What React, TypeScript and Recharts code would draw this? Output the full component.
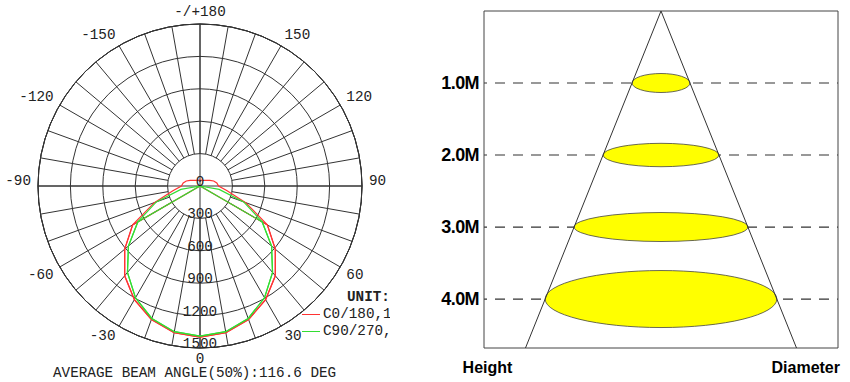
import {
  RadarChart,
  Radar,
  PolarGrid,
  PolarAngleAxis,
  PolarRadiusAxis,
  Legend,
  ScatterChart,
  Scatter,
  XAxis,
  YAxis,
  ReferenceArea,
} from 'recharts'

// gamma angles, 0 = straight down, 90 = right, 180 = up, 270 = -90
const gammaAngles = [
  0, 10, 20, 30, 40, 50, 60, 70, 80, 90, 100, 110, 120, 130, 140, 150, 160, 170,
  180, 190, 200, 210, 220, 230, 240, 250, 260, 270, 280, 290, 300, 310, 320, 330, 340, 350,
]

// candela, C0/180 plane
const c0Curve = [
  1400, 1380, 1315, 1215, 1085, 910, 720, 450, 255, 172, 158, 135, 105, 82, 68, 60, 56, 55,
  55, 55, 56, 60, 68, 82, 105, 135, 158, 172, 255, 450, 720, 910, 1085, 1215, 1315, 1380,
]
const c0Edge = [
  1400, 1380, 1315, 1215, 1085, 910, 720, 0, 0, 0, 0, 0, 0, 0, 0, 0, 0, 0,
  0, 0, 0, 0, 0, 0, 0, 0, 0, 0, 0, 0, 720, 910, 1085, 1215, 1315, 1380,
]

// candela, C90/270 plane
const c90Curve = [
  1390, 1370, 1305, 1195, 1045, 865, 665, 430, 180, 0, 0, 0, 0, 0, 0, 0, 0, 0,
  0, 0, 0, 0, 0, 0, 0, 0, 0, 0, 180, 430, 665, 865, 1045, 1195, 1305, 1370,
]
const c90Edge = [
  1390, 1370, 1305, 1195, 1045, 865, 665, 0, 0, 0, 0, 0, 0, 0, 0, 0, 0, 0,
  0, 0, 0, 0, 0, 0, 0, 0, 0, 0, 0, 0, 665, 865, 1045, 1195, 1305, 1370,
]

const intensityDomain = [0, 1500]

// beam spread diagram (metres)
const mountHeights = [1, 2, 3, 4]
const spotDiameters = [3.24, 6.48, 9.72, 12.96]
const coneX = [-7.58, 0, 7.58]
const coneY = [4.68, 0, 4.68]

const MONO = '"Liberation Mono", "Courier New", monospace'
const SANS = '"Liberation Sans", Arial, sans-serif'
const CX = 200
const CY = 186
const OUTER_R = 162
const INNER_R = 32.4
const RED = '#ff3333'
const GREEN = '#33dd33'
const GRID = '#333'
const SPOT_RY = [9.5, 11.7, 14.5, 28.5]
const X_MAX = 9.9
const Y_MAX = 4.68

const polarData = gammaAngles.map((angle, i) => ({
  angle,
  c0: c0Curve[i],
  c0Edge: c0Edge[i],
  c90: c90Curve[i],
  c90Edge: c90Edge[i],
}))

const coneData = coneX.map((x, i) => ({ x, y: coneY[i] }))

const legendColors: Record<string, string> = {
  'C0/180,1400cd': RED,
  'C90/270,1390cd': GREEN,
}

function AngleTick(props: any) {
  const { x, y, textAnchor, payload } = props
  const a = Number(payload.value)
  if (a % 30 !== 0) return <g />
  const label = a === 180 ? '-/+180' : a > 180 ? String(a - 360) : String(a)
  return (
    <text
      x={x}
      y={y + (y < CY + 1 ? -5 : 4)}
      textAnchor={textAnchor}
      dominantBaseline="central"
      fontFamily={MONO}
      fontSize={14.3}
      fill="#222"
    >
      {label}
    </text>
  )
}

function RadiusTick(props: any) {
  const { x, y, payload } = props
  return (
    <text x={x} y={y} textAnchor="middle" fontFamily={MONO} fontSize={14.3} fill="#222">
      {payload.value}
    </text>
  )
}

function renderLegend(props: any) {
  const { payload = [] } = props
  const items = payload.filter((entry: any) => legendColors[entry.value])
  return (
    <div style={{ fontFamily: MONO, fontSize: 14.3, lineHeight: '17px', color: '#222', whiteSpace: 'nowrap' }}>
      <div style={{ paddingLeft: 45, fontWeight: 700 }}>UNIT:cd</div>
      {items.map((entry: any) => (
        <div key={entry.value} style={{ display: 'flex', alignItems: 'center' }}>
          <span
            style={{
              display: 'inline-block',
              width: 18,
              height: 0,
              borderTop: `1.5px solid ${legendColors[entry.value]}`,
              marginRight: 3,
            }}
          />
          <span>{entry.value}</span>
        </div>
      ))}
    </div>
  )
}

function HeightTick(props: any) {
  const { x, y, payload } = props
  return (
    <text
      x={x}
      y={y}
      textAnchor="end"
      dominantBaseline="central"
      fontFamily={SANS}
      fontWeight={700}
      fontSize={18}
      letterSpacing={-0.6}
      fill="#000"
    >
      {Number(payload.value).toFixed(1)}M
    </text>
  )
}

function AxisNames(props: any) {
  const { viewBox } = props
  if (!viewBox) return null
  const { x, y, width } = viewBox
  return (
    <g fontFamily={SANS} fontWeight={700} fontSize={16} fill="#000">
      <text x={x + 3.5} y={y + 25} textAnchor="middle">Height</text>
      <text x={x + width + 2} y={y + 25} textAnchor="end">Diameter</text>
    </g>
  )
}

function DashShape(props: any) {
  const { x, y, width } = props
  return (
    <line
      x1={x}
      y1={y}
      x2={x + width}
      y2={y}
      stroke="#333"
      strokeWidth={1.2}
      strokeDasharray="10 8"
      strokeDashoffset={7}
    />
  )
}

function SpotShape(index: number) {
  return (props: any) => {
    const { x, y, width } = props
    return (
      <ellipse
        cx={x + width / 2}
        cy={y}
        rx={width / 2}
        ry={SPOT_RY[index]}
        fill="#ffff00"
        stroke="#444"
        strokeWidth={0.8}
      />
    )
  }
}

// spokes every 10 deg, starting at the 300 cd ring
function SpokeLayer() {
  return (
    <div style={{ position: 'absolute', left: 0, top: 0 }}>
      <RadarChart
        width={390}
        height={382}
        data={polarData}
        cx={CX}
        cy={CY}
        innerRadius={INNER_R}
        outerRadius={OUTER_R}
        startAngle={-90}
        endAngle={270}
        margin={{ top: 0, right: 0, bottom: 0, left: 0 }}
      >
        <PolarGrid gridType="circle" stroke={GRID} polarRadius={[OUTER_R]} />
        <PolarAngleAxis
          dataKey="angle"
          type="number"
          domain={[0, 360]}
          ticks={gammaAngles}
          tick={false}
          tickLine={false}
          axisLine={false}
        />
      </RadarChart>
    </div>
  )
}

function PolarDiagram() {
  return (
    <div style={{ position: 'absolute', left: 0, top: 0, width: 390, height: 382, overflow: 'hidden' }}>
      <SpokeLayer />
      <div style={{ position: 'absolute', left: 0, top: 0 }}>
        <RadarChart
          width={390}
          height={382}
          data={polarData}
          cx={CX}
          cy={CY}
          outerRadius={OUTER_R}
          startAngle={-90}
          endAngle={270}
          margin={{ top: 0, right: 0, bottom: 0, left: 0 }}
        >
          <PolarGrid gridType="circle" stroke={GRID} radialLines={false} />
          <PolarGrid
            gridType="circle"
            stroke={GRID}
            polarAngles={[0, 90, 180, 270]}
            polarRadius={[OUTER_R]}
          />
          <PolarAngleAxis
            dataKey="angle"
            type="number"
            domain={[0, 360]}
            ticks={gammaAngles}
            tick={<AngleTick />}
            tickLine={false}
            axisLine={false}
            tickSize={7}
          />
          <PolarRadiusAxis
            angle={-90}
            domain={intensityDomain}
            tickCount={6}
            axisLine={false}
            tick={<RadiusTick />}
          />
          <Radar
            name="C0/180,1400cd"
            dataKey="c0"
            stroke={RED}
            strokeWidth={1.2}
            fill="none"
            fillOpacity={0}
            dot={false}
            isAnimationActive={false}
          />
          <Radar
            dataKey="c0Edge"
            stroke={RED}
            strokeWidth={1.2}
            fill="none"
            fillOpacity={0}
            dot={false}
            legendType="none"
            isAnimationActive={false}
          />
          <Radar
            name="C90/270,1390cd"
            dataKey="c90"
            stroke={GREEN}
            strokeWidth={1.2}
            fill="none"
            fillOpacity={0}
            dot={false}
            isAnimationActive={false}
          />
          <Radar
            dataKey="c90Edge"
            stroke={GREEN}
            strokeWidth={1.2}
            fill="none"
            fillOpacity={0}
            dot={false}
            legendType="none"
            isAnimationActive={false}
          />
          <Legend
            content={renderLegend}
            layout="vertical"
            align="right"
            verticalAlign="bottom"
            wrapperStyle={{ left: 302, top: 289, width: 200 }}
          />
        </RadarChart>
      </div>
      <div
        style={{
          position: 'absolute',
          left: 53,
          top: 368,
          fontFamily: MONO,
          fontSize: 14.3,
          lineHeight: '11px',
          color: '#222',
          whiteSpace: 'nowrap',
        }}
      >
        AVERAGE BEAM ANGLE(50%):116.6 DEG
      </div>
    </div>
  )
}

function BeamDiagram() {
  return (
    <div style={{ position: 'absolute', left: 430, top: 0, width: 420, height: 382 }}>
      <ScatterChart width={420} height={382} margin={{ top: 11, right: 12, bottom: 0, left: 0 }}>
        <XAxis
          type="number"
          dataKey="x"
          domain={[-X_MAX, X_MAX]}
          allowDataOverflow
          height={34}
          tick={false}
          tickLine={false}
          axisLine={false}
          label={<AxisNames />}
        />
        <YAxis
          type="number"
          dataKey="y"
          domain={[0, Y_MAX]}
          reversed
          allowDataOverflow
          ticks={mountHeights}
          width={54}
          tickLine={false}
          axisLine={false}
          tickSize={3}
          tickMargin={2}
          tick={<HeightTick />}
        />
        {mountHeights.map((h) => (
          <ReferenceArea
            key={`l${h}`}
            x1={-X_MAX}
            x2={X_MAX}
            y1={h}
            y2={h}
            shape={DashShape}
            ifOverflow="visible"
          />
        ))}
        <Scatter
          data={coneData}
          line={{ stroke: '#333', strokeWidth: 1 }}
          shape={() => <g />}
          legendType="none"
          isAnimationActive={false}
        />
        {mountHeights.map((h, i) => (
          <ReferenceArea
            key={`s${h}`}
            x1={-spotDiameters[i] / 2}
            x2={spotDiameters[i] / 2}
            y1={h}
            y2={h}
            shape={SpotShape(i)}
            ifOverflow="visible"
          />
        ))}
        <ReferenceArea
          x1={-X_MAX}
          x2={X_MAX}
          y1={0}
          y2={Y_MAX}
          fill="none"
          fillOpacity={0}
          stroke="#444"
          strokeWidth={1}
          ifOverflow="visible"
        />
      </ScatterChart>
    </div>
  )
}

export default function App() {
  return (
    <div style={{ position: 'absolute', left: 0, top: 0, width: 850, height: 382, background: '#fff' }}>
      <PolarDiagram />
      <BeamDiagram />
    </div>
  )
}
